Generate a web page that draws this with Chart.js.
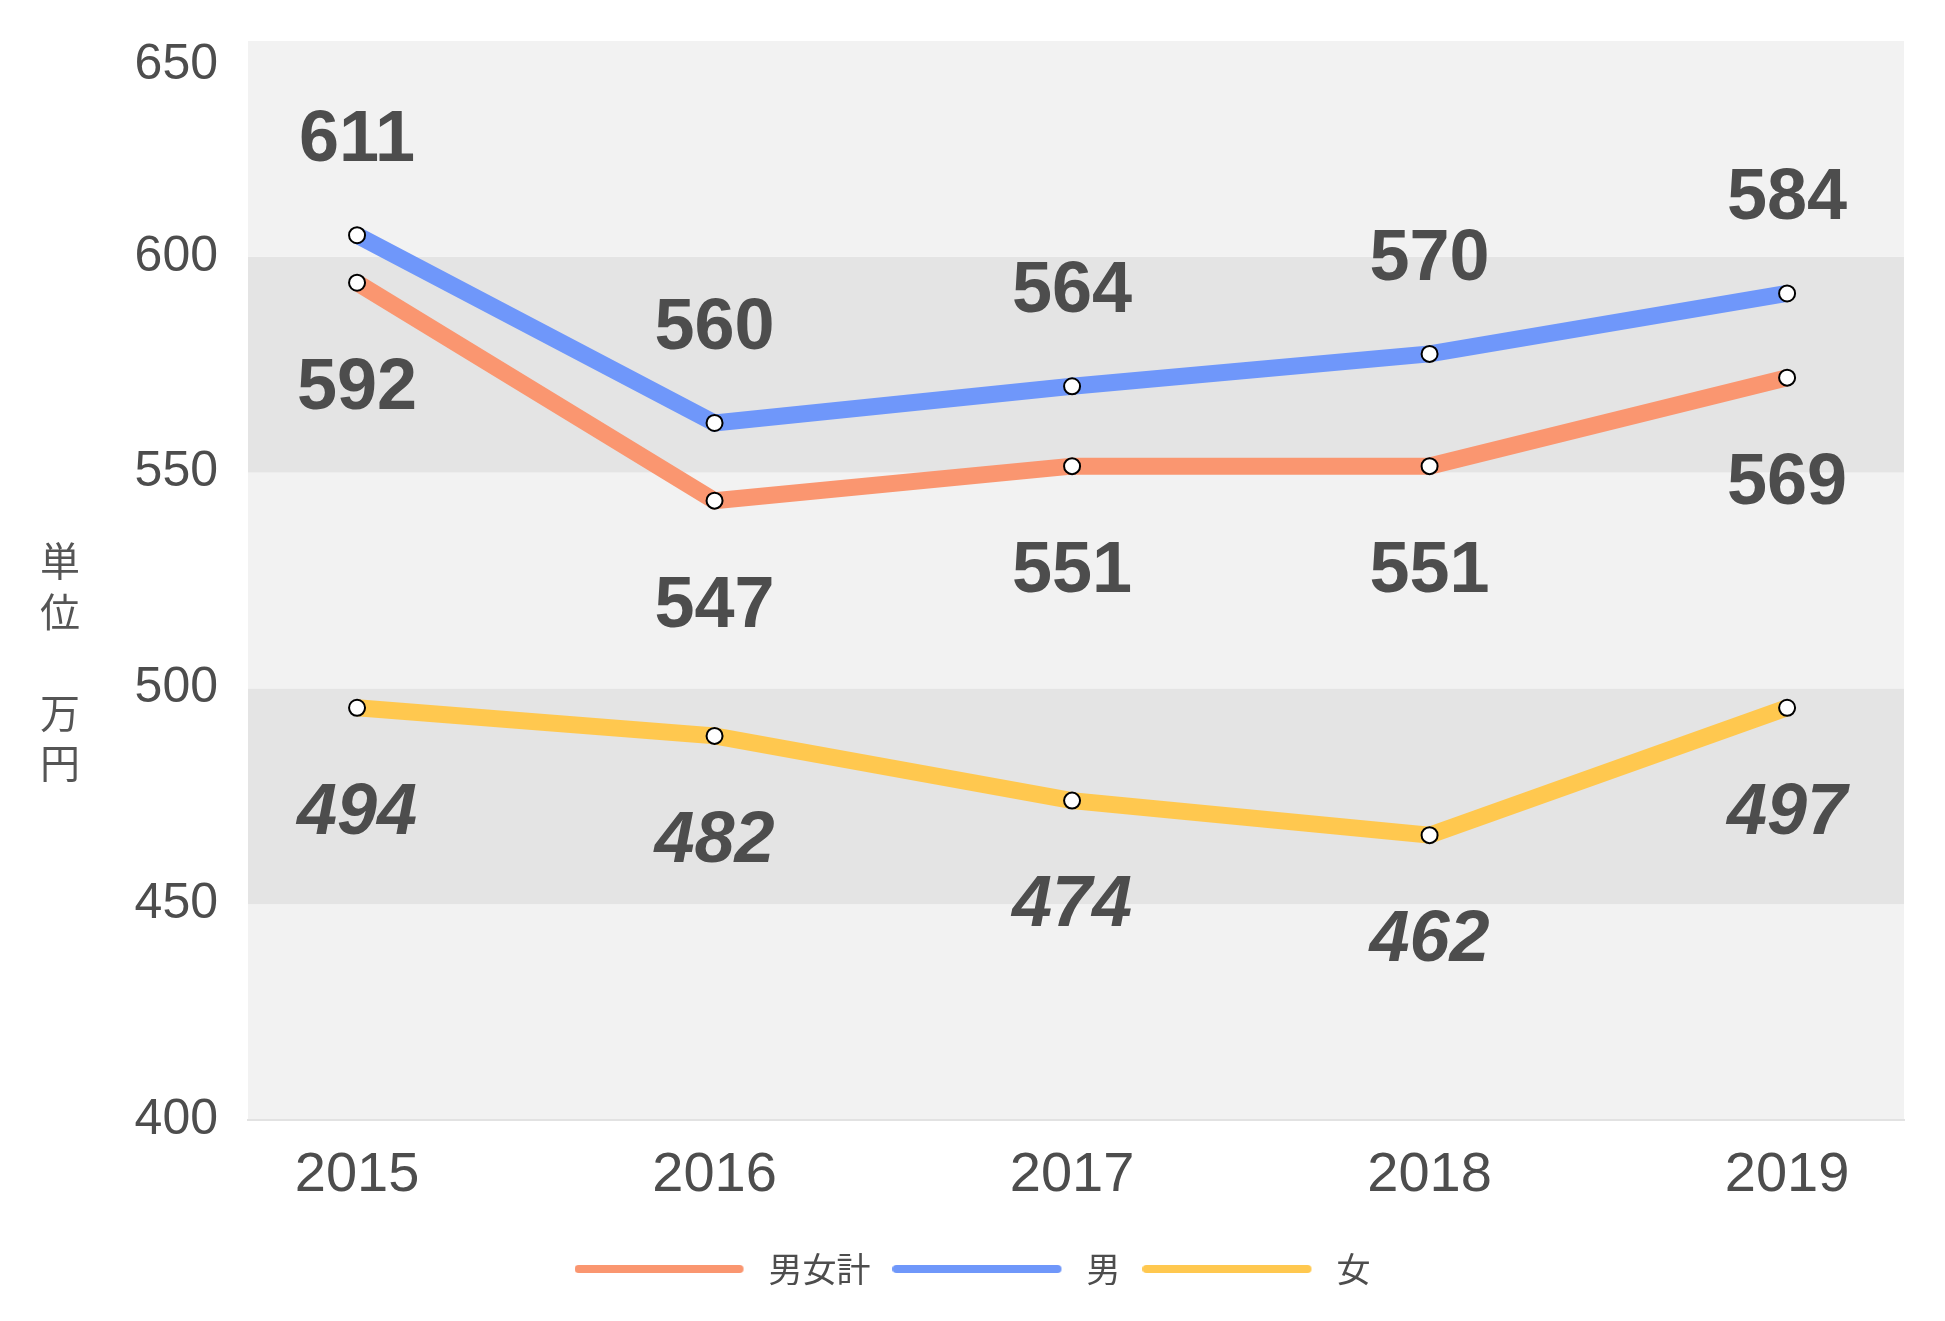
<!DOCTYPE html>
<html>
<head>
<meta charset="utf-8">
<script src="https://cdn.jsdelivr.net/npm/chart.js@4/dist/chart.umd.min.js"></script>
<style>
  html, body { margin: 0; padding: 0; background: #fff; }
  canvas { display: block; }
</style>
</head>
<body>
<canvas id="lineGraph" width="1945" height="1321"></canvas>
<script>
        // data
        const years = [2015, 2016, 2017, 2018, 2019];
        const seriesNames = ['男女計', '男', '女'];
        const totalValues = [594, 543.5, 551.5, 551.5, 572];
        const maleValues = [605, 561.5, 570, 577.5, 591.5];
        const femaleValues = [495.5, 489, 474, 466, 495.5];
        // printed labels (they don't exactly match the plotted points)
        const totalLabels = ['592', '547', '551', '551', '569'];
        const maleLabels = ['611', '560', '564', '570', '584'];
        const femaleLabels = ['494', '482', '474', '462', '497'];
        const yTicks = [400, 450, 500, 550, 600, 650];
        const unitTitle = ['単', '位', '', '万', '円'];

        const textColor = '#4d4d4d';
        const numFont = '"Liberation Sans", Arial, sans-serif';
        const jpFont = '"Noto Sans CJK JP", sans-serif';
        const seriesColors = ['#fa9670', '#6f97fa', '#ffc84f'];

        function toPoints(values) {
            return values.map((v, i) => ({ x: years[i], y: v }));
        }

        // legend marker: a round-capped line with some empty room on its right
        function legendLine(color) {
            const c = document.createElement('canvas');
            c.width = 177;
            c.height = 10;
            const g = c.getContext('2d');
            g.strokeStyle = color;
            g.lineWidth = 8;
            g.lineCap = 'round';
            g.beginPath();
            g.moveTo(4, 5);
            g.lineTo(165, 5);
            g.stroke();
            return c;
        }

        function makeSeries(name, values, labels, color, side, italic) {
            return {
                label: name,
                data: toPoints(values),
                borderColor: color,
                backgroundColor: color,
                borderWidth: 17,
                pointRadius: 8,
                pointBorderWidth: 2,
                pointBackgroundColor: '#ffffff',
                pointBorderColor: '#000000',
                tension: 0,
                valueLabels: labels,
                labelSide: side,
                labelItalic: italic
            };
        }

        const datasets = [
            makeSeries(seriesNames[0], totalValues, totalLabels, seriesColors[0], 1, false),
            makeSeries(seriesNames[1], maleValues, maleLabels, seriesColors[1], -1, false),
            makeSeries(seriesNames[2], femaleValues, femaleLabels, seriesColors[2], 1, true)
        ];

        // alternating horizontal bands behind the lines
        const bandsPlugin = {
            id: 'bands',
            beforeDraw(chart) {
                const {ctx, chartArea} = chart;
                const y = chart.scales.y;
                ctx.save();
                ctx.fillStyle = '#ffffff';
                ctx.fillRect(0, 0, chart.width, chart.height);
                for (let i = 0; i < yTicks.length - 1; i++) {
                    const top = y.getPixelForValue(yTicks[i + 1]);
                    const bottom = y.getPixelForValue(yTicks[i]);
                    ctx.fillStyle = i % 2 ? '#e4e4e4' : '#f2f2f2';
                    ctx.fillRect(chartArea.left, top, chartArea.right - chartArea.left, bottom - top);
                }
                ctx.restore();
            }
        };

        // big value labels above / below each point
        const valueLabelPlugin = {
            id: 'valueLabels',
            afterDatasetsDraw(chart) {
                const ctx = chart.ctx;
                ctx.save();
                ctx.fillStyle = textColor;
                ctx.textAlign = 'center';
                ctx.textBaseline = 'middle';
                chart.data.datasets.forEach((ds, di) => {
                    const meta = chart.getDatasetMeta(di);
                    ctx.font = (ds.labelItalic ? 'italic ' : '') + 'bold 72px ' + numFont;
                    meta.data.forEach((pt, i) => {
                        ctx.fillText(ds.valueLabels[i], pt.x, pt.y + ds.labelSide * 100 + 6);
                    });
                });
                ctx.restore();
            }
        };

        // vertical unit title and the top tick label (drawn a bit lower like the original)
        const extrasPlugin = {
            id: 'extras',
            afterDraw(chart) {
                const ctx = chart.ctx;
                const y = chart.scales.y;
                ctx.save();
                ctx.fillStyle = '#555555';
                ctx.font = '40px ' + jpFont;
                ctx.textAlign = 'center';
                ctx.textBaseline = 'middle';
                unitTitle.forEach((ch, i) => {
                    ctx.fillText(ch, 60, 561 + i * 50.5);
                });
                ctx.fillStyle = textColor;
                ctx.font = '50px ' + numFont;
                ctx.textAlign = 'right';
                const top = yTicks[yTicks.length - 1];
                ctx.fillText(String(top), chart.chartArea.left - 30, y.getPixelForValue(top) + 24);
                ctx.restore();
            }
        };

        const chart = new Chart(document.getElementById('lineGraph').getContext('2d'), {
            type: 'line',
            data: { datasets: datasets },
            options: {
                responsive: false,
                animation: false,
                devicePixelRatio: 1,
                layout: {
                    padding: { left: 41, right: 41, top: 41, bottom: 25 }
                },
                scales: {
                    x: {
                        type: 'linear',
                        min: 2014.695,
                        max: 2019.327,
                        grid: { display: false, drawTicks: false },
                        border: { display: true, color: '#e2e2e2', width: 2 },
                        ticks: {
                            stepSize: 1,
                            includeBounds: false,
                            padding: 22,
                            color: textColor,
                            font: { family: numFont, size: 56 },
                            callback: v => String(v)
                        },
                        afterFit(scale) {
                            scale.height = 110;
                            scale.paddingLeft = 0;
                            scale.paddingRight = 0;
                        }
                    },
                    y: {
                        min: 400,
                        max: 650,
                        grid: { display: false, drawTicks: false },
                        border: { display: false },
                        ticks: {
                            stepSize: 50,
                            padding: 30,
                            color: textColor,
                            font: { family: numFont, size: 50 },
                            callback: v => (v === yTicks[yTicks.length - 1] ? '' : String(v))
                        },
                        afterFit(scale) {
                            scale.width = 207;
                            scale.paddingTop = 0;
                            scale.paddingBottom = 0;
                        }
                    }
                },
                plugins: {
                    tooltip: { enabled: false },
                    legend: {
                        position: 'bottom',
                        labels: {
                            usePointStyle: true,
                            pointStyleWidth: 177,
                            boxHeight: 8,
                            padding: 22,
                            color: textColor,
                            font: { family: jpFont, size: 34 },
                            generateLabels(chart) {
                                return Chart.defaults.plugins.legend.labels.generateLabels(chart).map((item, i) => {
                                    item.pointStyle = legendLine(seriesColors[i]);
                                    item.rotation = 0;
                                    return item;
                                });
                            }
                        }
                    }
                }
            },
            plugins: [bandsPlugin, valueLabelPlugin, extrasPlugin]
        });
</script>
</body>
</html>
